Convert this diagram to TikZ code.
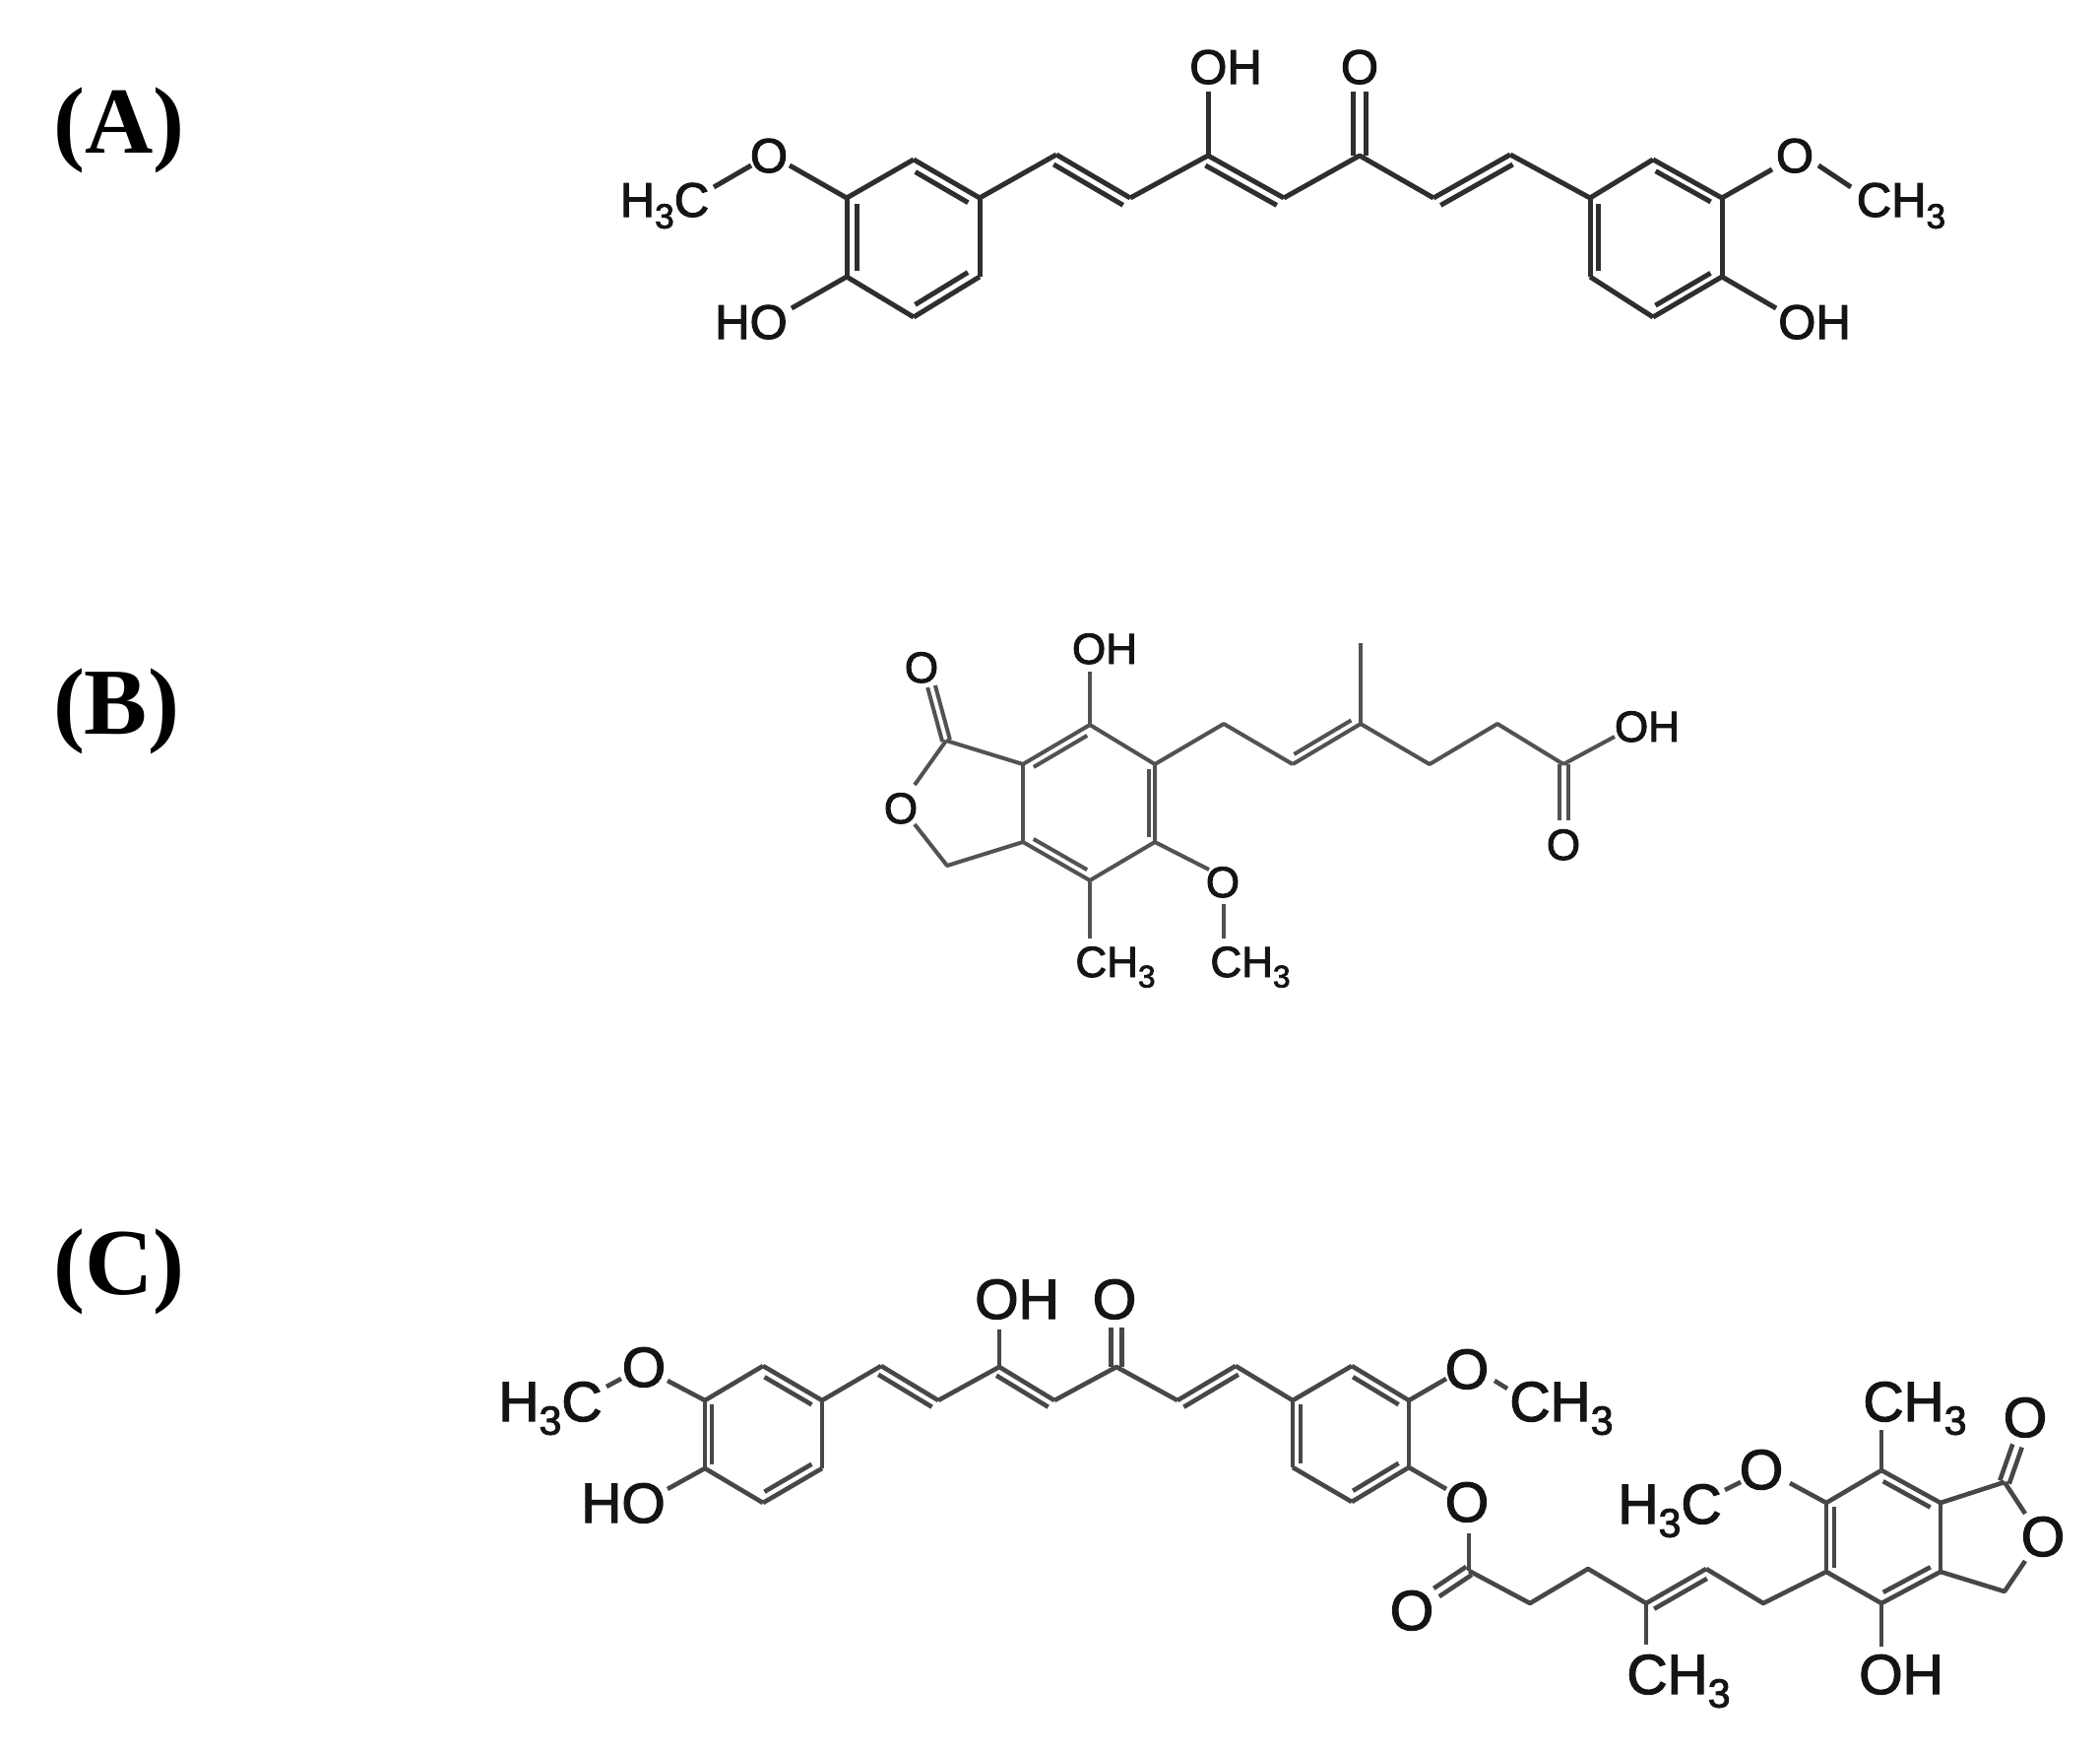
\documentclass[tikz,border=0pt]{standalone}
\usepackage{fontspec}
\setmainfont[FakeBold=2.2]{Liberation Sans}
\newfontfamily\serifb{Liberation Serif}
\usetikzlibrary{calc}
\newcommand{\sbt}{\raisebox{-.24em}{\scalebox{.72}{3}}}
\newcommand{\dbl}[4]{%
  \draw[bond] (#1) -- (#2);
  \draw[bond] ($(#1)!#4!(#2)!#3!90:(#2)$) -- ($(#1)!1-#4!(#2)!#3!90:(#2)$);}
\newcommand{\dblc}[3]{%
  \draw[bond] ($(#1)!#3!90:(#2)$) -- ($(#2)!#3!-90:(#1)$);
  \draw[bond] ($(#1)!#3!-90:(#2)$) -- ($(#2)!#3!90:(#1)$);}
\tikzset{
  bond/.style={line width=4pt,draw=black!80,line join=round},
  atomlabel/.style={anchor=base,inner sep=0pt,outer sep=0pt,text=black!92},
  panel/.style={anchor=base,inner sep=0pt,font={\serifb\bfseries\fontsize{96}{96}\selectfont}},
  labA/.style={atomlabel,font=\fontsize{49}{49}\selectfont},
  labB/.style={atomlabel,font=\fontsize{44}{44}\selectfont},
  labC/.style={atomlabel,font=\fontsize{57}{57}\selectfont},
}
\begin{document}
\begin{tikzpicture}[x=1pt,y=-1pt]
\useasboundingbox (0,0) rectangle (2133,1777);
\fill[white] (0,0) rectangle (2133,1777);
% panel letters
\node[panel] (pa) at (121,155) {(A)};
\node[panel] (pb) at (118,745) {(B)};
\node[panel] (pc) at (121,1314) {(C)};
% ---------- Molecule A
\begin{scope}[bond/.style={line width=5pt,draw=black!82,line join=round}]
\coordinate (a1) at (860,201); \coordinate (a2) at (928,162); \coordinate (a3) at (995,201);
\coordinate (a4) at (995,281); \coordinate (a5) at (928,322); \coordinate (a6) at (860,281);
\coordinate (a7) at (1073,157); \coordinate (a8) at (1148,201); \coordinate (a9) at (1227,158);
\coordinate (a10) at (1304,201); \coordinate (a11) at (1381,158); \coordinate (a12) at (1456,201);
\coordinate (a13) at (1534,157);
\coordinate (a14) at (1615,201); \coordinate (a15) at (1679,162); \coordinate (a16) at (1749,201);
\coordinate (a17) at (1749,281); \coordinate (a18) at (1679,322); \coordinate (a19) at (1615,281);
\coordinate (ae1) at (725,190); \coordinate (ae2) at (763,168); \coordinate (ae3) at (802,168);
\coordinate (ae4) at (804,313); \coordinate (ae5) at (1227,93); \coordinate (ae6) at (1381,93);
\coordinate (ae7) at (1800,172); \coordinate (ae8) at (1847,168); \coordinate (ae9) at (1880,190);
\coordinate (ae10) at (1804,313);
\dbl{a2}{a3}{-10pt}{.1}
\dbl{a1}{a6}{10pt}{.08}
\dbl{a5}{a4}{10pt}{.1}
\draw[bond] (a1) -- (a2);
\draw[bond] (a3) -- (a4);
\draw[bond] (a5) -- (a6);
\draw[bond] (a3) -- (a7);
\dbl{a7}{a8}{-10pt}{.03}
\draw[bond] (a8) -- (a9);
\dbl{a9}{a10}{-10pt}{.03}
\draw[bond] (a10) -- (a11) -- (a12);
\dbl{a12}{a13}{-10pt}{.03}
\draw[bond] (a13) -- (a14);
\dbl{a15}{a16}{-9pt}{.1}
\dbl{a14}{a19}{8pt}{.08}
\dbl{a18}{a17}{9pt}{.1}
\draw[bond] (a14) -- (a15);
\draw[bond] (a16) -- (a17);
\draw[bond] (a18) -- (a19);
\draw[bond] (ae1) -- (ae2);
\draw[bond] (ae3) -- (a1);
\draw[bond] (ae4) -- (a6);
\draw[bond] (ae5) -- (a9);
\dblc{a11}{ae6}{6.5pt}
\draw[bond] (a16) -- (ae7);
\draw[bond] (ae8) -- (ae9);
\draw[bond] (a17) -- (ae10);
\node[labA] (l1) at (675,220) {H\sbt C};
\node[labA] (l2) at (781,175) {O};
\node[labA] (l3) at (763,344) {HO};
\node[labA] (l4) at (1245,85) {OH};
\node[labA] (l5) at (1381,85) {O};
\node[labA] (l6) at (1823,175) {O};
\node[labA] (l7) at (1931,220) {CH\sbt};
\node[labA] (l8) at (1843,344) {OH};
\end{scope}
% ---------- Molecule B
\begin{scope}[bond/.style={line width=4pt,draw=black!68,line join=round}]
\coordinate (b1) at (961,752); \coordinate (b2) at (1039,776); \coordinate (b3) at (1107,736);
\coordinate (b4) at (1173,776); \coordinate (b5) at (1173,855); \coordinate (b6) at (1107,894);
\coordinate (b7) at (1039,855); \coordinate (b8) at (962,879);
\coordinate (b9) at (1243,735); \coordinate (b10) at (1313,776); \coordinate (b11) at (1382,735);
\coordinate (b12) at (1382,653); \coordinate (b13) at (1452,776); \coordinate (b14) at (1521,735);
\coordinate (b15) at (1588,776);
\coordinate (be1) at (946,697); \coordinate (be2) at (929,797); \coordinate (be3) at (929,837);
\coordinate (be4) at (1107,682); \coordinate (be5) at (1228,883); \coordinate (be6) at (1243,918);
\coordinate (be7) at (1243,953); \coordinate (be8) at (1107,953); \coordinate (be9) at (1640,748);
\coordinate (be10) at (1588,833);
\dblc{b1}{be1}{4pt}
\draw[bond] (b1) -- (b2);
\draw[bond] (b1) -- (be2);
\draw[bond] (be3) -- (b8) -- (b7);
\dbl{b2}{b3}{-8pt}{.1}
\draw[bond] (b3) -- (b4);
\dbl{b4}{b5}{-6pt}{.06}
\draw[bond] (b5) -- (b6);
\dbl{b7}{b6}{8pt}{.1}
\draw[bond] (b7) -- (b2);
\draw[bond] (b3) -- (be4);
\draw[bond] (b5) -- (be5);
\draw[bond] (be6) -- (be7);
\draw[bond] (b6) -- (be8);
\draw[bond] (b4) -- (b9) -- (b10);
\dbl{b10}{b11}{8pt}{.08}
\draw[bond] (b11) -- (b12);
\draw[bond] (b11) -- (b13) -- (b14) -- (b15);
\draw[bond] (b15) -- (be9);
\dblc{b15}{be10}{4.5pt}
\node[labB] (m1) at (936,693) {O};
\node[labB] (m2) at (915,836) {O};
\node[labB] (m3) at (1122,674) {OH};
\node[labB] (m4) at (1242,911) {O};
\node[labB] (m5) at (1133,992) {CH\sbt};
\node[labB] (m6) at (1270,992) {CH\sbt};
\node[labB] (m7) at (1673,753) {OH};
\node[labB] (m8) at (1588,873) {O};
\end{scope}
% ---------- Molecule C
\begin{scope}[bond/.style={line width=4.6pt,draw=black!72,line join=round}]
\coordinate (c1) at (716,1422); \coordinate (c2) at (775,1387); \coordinate (c3) at (835,1422);
\coordinate (c4) at (835,1491); \coordinate (c5) at (775,1526); \coordinate (c6) at (716,1491);
\coordinate (c7) at (895,1387); \coordinate (c8) at (953,1422); \coordinate (c9) at (1015,1388);
\coordinate (c10) at (1071,1422); \coordinate (c11) at (1134,1388); \coordinate (c12) at (1196,1422);
\coordinate (c13) at (1255,1387);
\coordinate (c14) at (1313,1422); \coordinate (c15) at (1373,1387); \coordinate (c16) at (1431,1422);
\coordinate (c17) at (1431,1490); \coordinate (c18) at (1373,1525); \coordinate (c19) at (1313,1490);
\coordinate (c20) at (1492,1595); \coordinate (c21) at (1554,1628); \coordinate (c22) at (1613,1593);
\coordinate (c23) at (1672,1628); \coordinate (c24) at (1733,1593); \coordinate (c25) at (1791,1628);
\coordinate (c26) at (1855,1596); \coordinate (c27) at (1911,1628); \coordinate (c28) at (1971,1596);
\coordinate (c29) at (1971,1526); \coordinate (c30) at (1911,1493); \coordinate (c31) at (1855,1526);
\coordinate (c32) at (2036,1505); \coordinate (c33) at (2036,1616);
\coordinate (ce1) at (616,1408); \coordinate (ce2) at (631,1400); \coordinate (ce3) at (678,1402);
\coordinate (ce4) at (678,1512); \coordinate (ce5) at (1015,1350); \coordinate (ce6) at (1134,1348);
\coordinate (ce7) at (1469,1400); \coordinate (ce8) at (1518,1402); \coordinate (ce9) at (1531,1410);
\coordinate (ce10) at (1469,1512); \coordinate (ce11) at (1492,1557); \coordinate (ce12) at (1459,1617);
\coordinate (ce13) at (1672,1670); \coordinate (ce14) at (1911,1672); \coordinate (ce15) at (1911,1452);
\coordinate (ce16) at (1818,1506); \coordinate (ce17) at (1752,1513); \coordinate (ce18) at (1768,1505);
\coordinate (ce19) at (2049,1468); \coordinate (ce20) at (2057,1537); \coordinate (ce21) at (2057,1585);
\dbl{c2}{c3}{-9pt}{.1}
\dbl{c1}{c6}{7pt}{.06}
\dbl{c5}{c4}{9pt}{.1}
\draw[bond] (c1) -- (c2);
\draw[bond] (c3) -- (c4);
\draw[bond] (c5) -- (c6);
\draw[bond] (c3) -- (c7);
\dbl{c7}{c8}{-9pt}{.03}
\draw[bond] (c8) -- (c9);
\dbl{c9}{c10}{-9pt}{.03}
\draw[bond] (c10) -- (c11) -- (c12);
\dbl{c12}{c13}{-9pt}{.03}
\draw[bond] (c13) -- (c14);
\dbl{c15}{c16}{-9pt}{.1}
\dbl{c14}{c19}{8pt}{.06}
\dbl{c18}{c17}{9pt}{.1}
\draw[bond] (c14) -- (c15);
\draw[bond] (c16) -- (c17);
\draw[bond] (c18) -- (c19);
\draw[bond] (ce1) -- (ce2);
\draw[bond] (ce3) -- (c1);
\draw[bond] (ce4) -- (c6);
\draw[bond] (ce5) -- (c9);
\dblc{c11}{ce6}{5.5pt}
\draw[bond] (c16) -- (ce7);
\draw[bond] (ce8) -- (ce9);
\draw[bond] (c17) -- (ce10);
\draw[bond] (ce11) -- (c20);
\dblc{c20}{ce12}{5pt}
\draw[bond] (c20) -- (c21) -- (c22) -- (c23);
\dbl{c23}{c24}{-9pt}{.06}
\draw[bond] (c24) -- (c25) -- (c26);
\draw[bond] (c23) -- (ce13);
\dbl{c31}{c26}{8pt}{.06}
\draw[bond] (c26) -- (c27);
\dbl{c27}{c28}{9pt}{.1}
\draw[bond] (c28) -- (c29);
\dbl{c30}{c29}{-9pt}{.1}
\draw[bond] (c30) -- (c31);
\draw[bond] (c27) -- (ce14);
\draw[bond] (c30) -- (ce15);
\draw[bond] (c31) -- (ce16);
\draw[bond] (ce17) -- (ce18);
\draw[bond] (c29) -- (c32);
\dblc{c32}{ce19}{5pt}
\draw[bond] (c32) -- (ce20);
\draw[bond] (ce21) -- (c33) -- (c28);
\node[labC] (n1) at (559,1443) {H\sbt C};
\node[labC] (n2) at (654,1408) {O};
\node[labC] (n3) at (633,1546) {HO};
\node[labC] (n4) at (1033,1339) {OH};
\node[labC] (n5) at (1132,1339) {O};
\node[labC] (n6) at (1490,1410) {O};
\node[labC] (n7) at (1586,1443) {CH\sbt};
\node[labC] (n8) at (1490,1545) {O};
\node[labC] (n9) at (1434,1655) {O};
\node[labC] (n10) at (1696,1547) {H\sbt C};
\node[labC] (n11) at (1789,1512) {O};
\node[labC] (n12) at (1945,1443) {CH\sbt};
\node[labC] (n13) at (2057,1459) {O};
\node[labC] (n14) at (2075,1580) {O};
\node[labC] (n15) at (1705,1720) {CH\sbt};
\node[labC] (n16) at (1931,1720) {OH};
\end{scope}
\end{tikzpicture}
\end{document}
